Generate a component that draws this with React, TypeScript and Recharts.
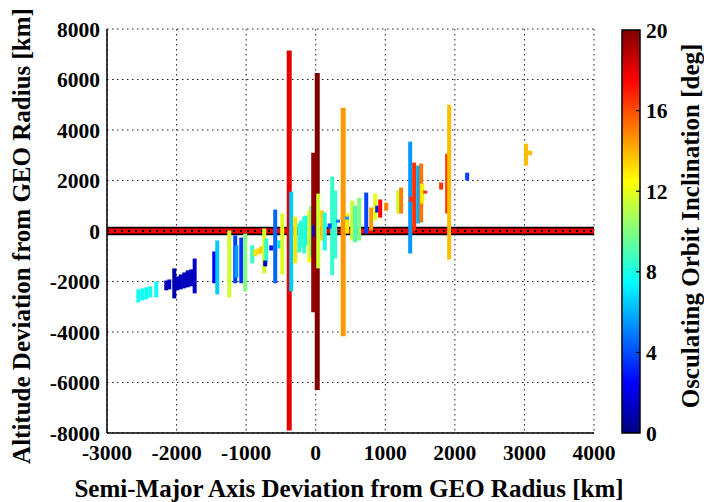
import React from "react";
import {
  ComposedChart, Line, XAxis, YAxis, CartesianGrid, ReferenceArea, ReferenceLine,
} from "recharts";

// semi-major axis deviation [km], altitude range [km], inclination [deg]
const barSma = [
  -2550, -2493, -2436, -2378, -2292,
  -2148, -2105, -2033, -1990, -1940, -1890, -1840, -1790, -1740,
  -1458, -1415, -1243, -1157, -1140, -1070, -1013,
  -912, -869, -826, -783, -740, -711, -726, -639, -582, -524, -481,
  -381, -352, -295, -237, -208, -165, -136, -93, -65, -36, -20, 22, 36, 93, 130,
  237, 280, 395, 453, 524, 567, 625, 726, 797, 855, 884, 927, 1013,
  1185, 1228, 1358, 1372, 1415, 1473, 1516, 1530, 1573, 1803, 1889, 1918,
  2177, 3024, 3082, 200, 320, 450,
];
const barLow = [
  -2830, -2750, -2710, -2630, -2630,
  -2350, -2310, -2670, -2350, -2310, -2270, -2230, -2190, -2470,
  -2070, -2510, -2630, -2070, -1840, -2070, -2390,
  -1280, -1000, -930, -890, -1680, -1250, -1400, -770, -2070, -690, -1720,
  -7900, -2390, -1280, -850, -650, -890, -570, -1250, -1050, -3220, -220, -6300, -1480, -375, -770,
  -1750, -1090, -4170, -100, -375, -450, -375, -100, 20, 420, 730, 530, 810,
  690, 690, -890, 1160, 20, 300, 340, 1090, 1480, 1640, 690, -1130,
  2000, 2590, 3000, 100, 330, 450,
];
const barHigh = [
  -2310, -2270, -2230, -2190, -2000,
  -1960, -1920, -1480, -1800, -1720, -1640, -1560, -1520, -1090,
  -810, -375, 20, -180, -570, -260, -100,
  -570, -730, -690, -610, 100, -300, -1170, -570, 850, -375, 690,
  7150, 1560, 570, 300, 415, 570, 610, 810, 1000, 3100, 220, 6260, 1480, 810, 730,
  2150, 1600, 4880, 690, 1200, 1000, 1320, 1520, 930, 1480, 1000, 1250, 1120,
  1600, 1720, 3540, 1360, 2710, 2590, 2670, 1880, 1600, 1920, 3060, 5000,
  2310, 3460, 3180, 300, 450, 570,
];
const barIncl = [
  7.8, 7.8, 7.8, 7.8, 7.8,
  1.2, 1.2, 0.8, 1.2, 1.2, 1.2, 1.2, 1.2, 1.4,
  2.5, 6.5, 11.6, 3.8, 5.5, 3.5, 10,
  8.5, 13, 13.2, 13.5, 11.6, 8.5, 1.5, 3, 4.5, 7, 11.8,
  18, 6.5, 13, 8.5, 8.2, 8.5, 7.8, 12.5, 10, 19.5, 1.5, 20, 11.5, 13.5, 8,
  8.5, 8.5, 14.5, 13, 11.5, 9, 10, 3.8, 14.5, 12, 3, 17.5, 15,
  11.5, 15, 5.5, 16.5, 16.5, 5.8, 15.2, 12.8, 16.5, 16.5, 16.3, 13.8,
  3.8, 13.8, 13.8, 4, 5, 5.5,
];

const xTicks = [-3000, -2000, -1000, 0, 1000, 2000, 3000, 4000];
const yTicks = [-8000, -6000, -4000, -2000, 0, 2000, 4000, 6000, 8000];
const cbTicks = [0, 4, 8, 12, 16, 20];

const FONT = "Liberation Serif";

// jet colormap, value in degrees on 0..20
const jet = (v: number) => {
  const t = v / 20;
  const c = (a: number) => Math.round(255 * Math.max(0, Math.min(1, 1.5 - Math.abs(4 * t - a))));
  return `rgb(${c(3)},${c(2)},${c(1)})`;
};

const tickStyle = { fill: "#000", fontSize: 21.5, fontWeight: 700, fontFamily: FONT };
const titleStyle = { ...tickStyle, fontSize: 25 };

// colorbar geometry (pixels)
const CB_X = 622, CB_W = 18, CB_TOP = 30, CB_BOT = 433;

export default function App() {
  const bars = barSma.map((x, i) => ({
    data: [{ x, y: barLow[i] }, { x, y: barHigh[i] }],
    color: jet(barIncl[i]),
    wide: barHigh[i] - barLow[i] > 8000,
  }));

  const cbY = (v: number) => CB_BOT - (v / 20) * (CB_BOT - CB_TOP);

  return (
    <div style={{ position: "absolute", left: 0, top: 0, width: 704, height: 502, background: "#fff" }}>
      <ComposedChart width={704} height={502} margin={{ top: 29, right: 110, bottom: 0, left: 0 }}>
        <CartesianGrid stroke="#222" strokeDasharray="1.5 3.5" />
        <XAxis
          type="number"
          dataKey="x"
          domain={[-3000, 4000]}
          ticks={xTicks}
          allowDataOverflow
          height={69}
          tick={tickStyle}
          tickSize={0}
          tickMargin={12}
          axisLine={{ stroke: "#000", strokeWidth: 1.5 }}
        />
        <XAxis xAxisId="top" orientation="top" type="number" domain={[-3000, 4000]} ticks={xTicks}
          height={0} tick={false} tickLine={false} axisLine={{ stroke: "#000", strokeWidth: 1.5 }} />
        <YAxis
          type="number"
          dataKey="y"
          domain={[-8000, 8000]}
          ticks={yTicks}
          allowDataOverflow
          width={107}
          tick={tickStyle}
          tickSize={0}
          tickMargin={7}
          axisLine={{ stroke: "#000", strokeWidth: 1.5 }}
        />
        <YAxis yAxisId="right" orientation="right" type="number" domain={[-8000, 8000]} ticks={yTicks}
          width={0} tick={false} tickLine={false} axisLine={{ stroke: "#000", strokeWidth: 1.5 }} />
        <ReferenceArea x1={-3000} x2={4000} y1={-170} y2={170} fill="#000" fillOpacity={1} stroke="none" />
        <ReferenceLine y={0} stroke="#ff0000" strokeWidth={5} />
        <ReferenceLine y={0} stroke="#000" strokeWidth={2} strokeDasharray="2 5" />
        {bars.map((b, i) => (
          <Line
            key={i}
            data={b.data}
            dataKey="y"
            type="linear"
            stroke={b.color}
            strokeWidth={b.wide ? 5 : 4}
            dot={false}
            activeDot={false}
            isAnimationActive={false}
          />
        ))}
      </ComposedChart>

      <svg width={704} height={502} style={{ position: "absolute", left: 0, top: 0, pointerEvents: "none" }}>
        <defs>
          <linearGradient id="jetGrad" x1="0" y1="0" x2="0" y2="1">
            <stop offset="0" stopColor="rgb(128,0,0)" />
            <stop offset="0.125" stopColor="rgb(255,0,0)" />
            <stop offset="0.375" stopColor="rgb(255,255,0)" />
            <stop offset="0.625" stopColor="rgb(0,255,255)" />
            <stop offset="0.875" stopColor="rgb(0,0,255)" />
            <stop offset="1" stopColor="rgb(0,0,128)" />
          </linearGradient>
        </defs>
        <rect x={CB_X} y={CB_TOP} width={CB_W} height={CB_BOT - CB_TOP} fill="url(#jetGrad)" stroke="#000" strokeWidth={1.5} />
        {cbTicks.map((v) => (
          <g key={v}>
            {v > 0 && v < 20 && (
              <line x1={CB_X + CB_W - 4} x2={CB_X + CB_W} y1={cbY(v)} y2={cbY(v)} stroke="#000" strokeWidth={1.2} />
            )}
            <text x={CB_X + CB_W + 6} y={cbY(v)} dy="0.35em" style={tickStyle}>{v}</text>
          </g>
        ))}
        <text x={690} y={226} textAnchor="middle" transform="rotate(-90 690 226)" dy="0.35em" style={titleStyle}>
          Osculating Orbit Inclination [deg]
        </text>
        <text x={21} y={236} textAnchor="middle" transform="rotate(-90 21 236)" dy="0.35em" style={titleStyle}>
          Altitude Deviation from GEO Radius [km]
        </text>
        <text x={349} y={488} textAnchor="middle" dy="0.35em" style={titleStyle}>
          Semi-Major Axis Deviation from GEO Radius [km]
        </text>
      </svg>
    </div>
  );
}
